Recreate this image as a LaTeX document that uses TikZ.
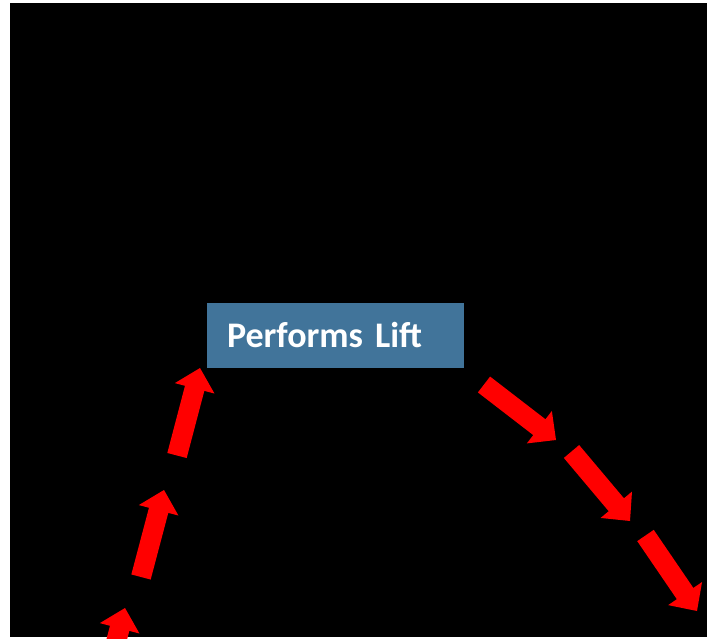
\documentclass[tikz,border=0pt]{standalone}
\usepackage{fontspec}
\setmainfont{Carlito}
\usetikzlibrary{calc}
\definecolor{boxblue}{RGB}{65,116,154}
\tikzset{
  blockarrow/.style={fill=red, draw=none},
  liftbox/.style={rectangle, fill=boxblue, draw=none, text=white,
    font=\bfseries\fontsize{36}{40}\selectfont, minimum height=65pt,
    text width=217pt, inner xsep=20pt, inner ysep=0pt, align=left,
    text height=24pt, text depth=0pt}
}
\newcommand\myblockarrow[2]{%
  \path let \p1=(#1), \p2=(#2), \n1={atan2(\y2-\y1,\x2-\x1)}, \n2={veclen(\x2-\x1,\y2-\y1)} in
    [blockarrow] (#1) ++(\n1+90:10pt) -- ++(\n1:\n2-21pt) -- ++(\n1+90:10.5pt)
      -- (#2) -- ($(#1)+(\n1:\n2-21pt)+(\n1-90:20.5pt)$) -- ++(\n1+90:10.5pt)
      -- ($(#1)+(\n1-90:10pt)$) -- cycle;%
}
\begin{document}
\begin{tikzpicture}[x=1pt,y=-1pt]
\useasboundingbox (0,0) rectangle (707,639);
\fill[white] (0,0) rectangle (707,639);
\clip (0,0) rectangle (707,639);
\fill[black] (10,3.5) rectangle (707,636.5);
\node[liftbox] (lift) at (335.5,335.5) {Performs Lift};
% left arrows (upward)
\coordinate (l1t) at (177,455.5); \coordinate (l1p) at (200,368);
\coordinate (l2t) at (141,577);   \coordinate (l2p) at (164,490);
\coordinate (l3t) at (102,695.5); \coordinate (l3p) at (125,608);
% right arrows (downward)
\coordinate (r1t) at (484,384.5);   \coordinate (r1p) at (556,440);
\coordinate (r2t) at (571.5,451.5); \coordinate (r2p) at (630,521);
\coordinate (r3t) at (645.5,535.5); \coordinate (r3p) at (697,611);
\myblockarrow{l1t}{l1p}
\myblockarrow{l2t}{l2p}
\myblockarrow{l3t}{l3p}
\myblockarrow{r1t}{r1p}
\myblockarrow{r2t}{r2p}
\myblockarrow{r3t}{r3p}
\end{tikzpicture}
\end{document}
